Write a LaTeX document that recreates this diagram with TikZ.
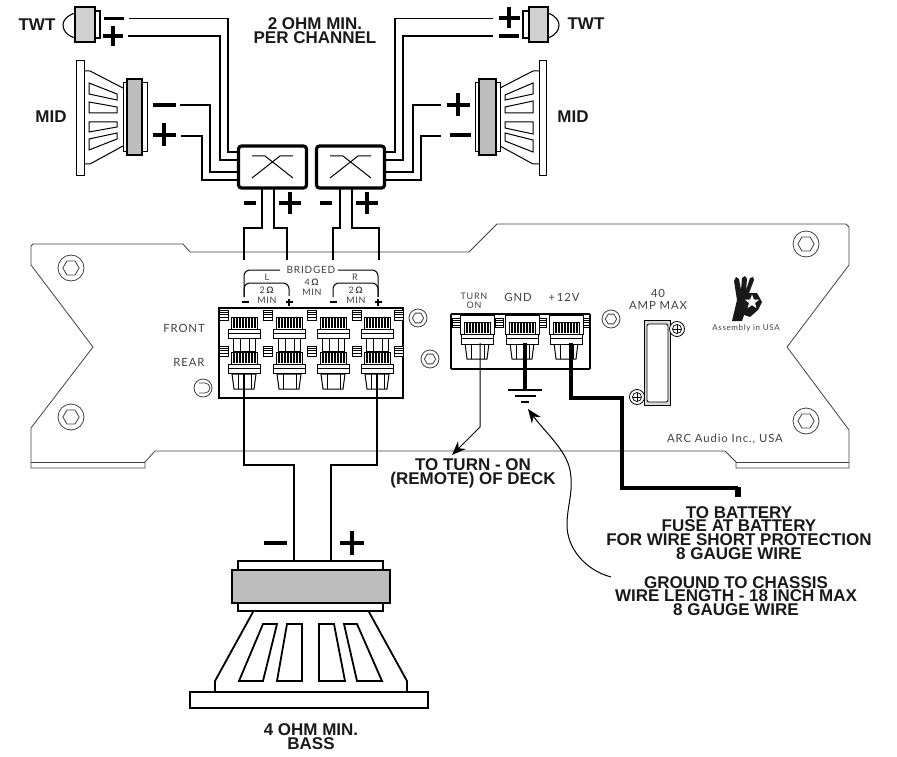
\documentclass[tikz,border=0pt]{standalone}
\usepackage{fontspec}
\setmainfont{Liberation Sans}
\newfontfamily\panelfont[LetterSpace=8]{Lato}
\usetikzlibrary{arrows.meta}
\usetikzlibrary{shapes.geometric}
\definecolor{coilGrey}{gray}{0.74}
\definecolor{panelInk}{gray}{0.25}
\begin{document}
\begin{tikzpicture}
[x=1pt,y=-1pt,
  wireLine/.style={-,line width=1.8pt,line join=miter},%
  signLine/.style={-,line width=3.6pt},%
  partLine/.style={-,line width=1pt,fill=white},%
  boardLine/.style={-,line width=0.8pt,panelInk},%
  heavyLine/.style={-,line width=4.6pt,line join=miter},%
  pointerLine/.style={-{Stealth[length=14pt,width=11pt]},line width=1pt},%
  bigLabel/.style={font=\fontsize{17}{13.8}\selectfont\bfseries,align=center,inner sep=0pt,text=black!90},%
  panelLabel/.style={font=\fontsize{11.3}{12}\selectfont\panelfont,align=center,inner sep=0pt,text=panelInk},%
  tinyLabel/.style={font=\fontsize{9}{9.5}\selectfont\panelfont,align=center,inner sep=0pt,text=panelInk},%
  hexHead/.style={regular polygon,regular polygon sides=6,draw=panelInk,line width=0.8pt,inner sep=0pt}]
\useasboundingbox (0,0) rectangle (897,757);
%% board outline
\draw[boardLine] (33,244) -- (183,244) -- (190,252) -- (469,252) -- (497,224) -- (846,224)
  -- (849,227) -- (849,265) -- (787,347) -- (849,430) -- (849,468) -- (736,468) -- (736,462)
  -- (725,451) -- (155,451) -- (145,462) -- (145,468) -- (31,468) -- (31,428) -- (93,347)
  -- (31,265) -- (31,246) -- cycle;
\draw[boardLine] (31,462) -- (145,462) (736,462) -- (849,462);
%% screws
\foreach \screwname/\x/\y/\r in {
  sa/71/268/13, sb/71/417/13, sc/806/244/13, sd/806/421/13,
  se/418/318/9, sf/430/359/9, sg/611/319/9}
{
  \draw[boardLine] (\x,\y) circle (\r);
  \node[hexHead,minimum size=1.25*\r pt] (\screwname) at (\x,\y) {};
}
\draw[boardLine] (203,388) circle (9);
\draw[boardLine] (199,383) -- (205,383) arc (-90:90:5) -- (199,393);
%% terminal blocks
\draw[line width=1.8pt] (219,308) rectangle (403,398);
\draw[line width=1.8pt,rounded corners=1pt] (451,314) rectangle (590,369);
%% small ribs
\foreach \x in {219,263,307,352,394}
  \foreach \y in {310,346}
  {
    \draw[line width=0.7pt,fill=white] (\x,\y) rectangle ++(9,10);
    \foreach \d in {2,4.5,7}
      \draw[line width=1pt] (\x,\y+\d) -- ++(9,0);
  }
\foreach \x/\y in {452/318,495/318,538/318,581/318}
{
  \draw[line width=0.7pt,fill=white] (\x,\y) rectangle ++(8,9);
  \foreach \d in {2,4.5,7}
    \draw[line width=1pt] (\x,\y+\d) -- ++(8,0);
}
%% speaker posts
\foreach \x in {244,289,333,377}
{
  \draw[partLine] (\x-11,338) -- (\x+11,338) -- (\x+11,351) -- (\x-11,351) -- cycle;
  \draw[line width=0.6pt] (\x-4,338) -- (\x-4,351) (\x+5,338) -- (\x+5,351);
  \draw[partLine] (\x-12,374) -- (\x+12,374) -- (\x+10,389) -- (\x-10,389) -- cycle;
  \draw[line width=0.6pt] (\x-6,374) -- (\x-6,389) (\x+7,374) -- (\x+7,389);
  \foreach \y in {317,352}
  {
    \draw[partLine] (\x-13,\y) rectangle (\x+13,\y+12);
    \foreach \d in {-10,-7,...,11}
      \draw[line width=1.3pt] (\x+\d,\y+1) -- (\x+\d,\y+11);
    \draw[partLine] (\x-16,\y+12) rectangle (\x+16,\y+16);
    \draw[partLine] (\x-16,\y+16) rectangle (\x+16,\y+21);
  }
}
%% power posts
\foreach \x in {477,522,566}
{
  \draw[partLine] (\x-17,315) rectangle (\x+17,334);
  \draw[partLine] (\x-12,343) -- (\x+12,343) -- (\x+10,359) -- (\x-10,359) -- cycle;
  \draw[line width=0.6pt] (\x-6,343) -- (\x-6,359) (\x+7,343) -- (\x+7,359);
  \draw[partLine] (\x-13,322) rectangle (\x+13,334);
  \foreach \d in {-10,-7,...,11}
    \draw[line width=1.3pt] (\x+\d,323) -- (\x+\d,333);
  \draw[partLine] (\x-16,334) rectangle (\x+16,338);
  \draw[partLine] (\x-16,338) rectangle (\x+16,344);
}
%% fuse
\draw[line width=1pt,fill=black!15] (644,320) rectangle (670,405);
\draw[line width=0.8pt,fill=white,rounded corners=2pt] (647,324) rectangle (668,402);
\foreach \x/\y in {677/329,637/397}
{
  \draw[line width=0.8pt,fill=white] (\x,\y) circle (7.5);
  \draw[line width=0.7pt] (\x,\y) circle (4.5);
  \draw[line width=0.7pt] (\x-4,\y) -- (\x+4,\y) (\x,\y-4) -- (\x,\y+4);
}
%% hand mark
\fill[black!90] (732,321) -- (737,300) -- (734,281) -- (736,277) -- (739,279) -- (741,290)
  -- (742,278) -- (745,276) -- (747,279) -- (746,290) -- (750,278) -- (753,277) -- (754,280)
  -- (749,293) -- (757,293) -- (762,302) -- (758,310) -- (750,317) -- (744,315) -- (742,321) -- cycle;
\node[star,star points=5,star point ratio=2.4,fill=white,inner sep=0pt,minimum size=15pt] (handStar) at (752,302) {};
%% bridged brackets
\draw[line width=1pt,rounded corners=6pt] (244,297) -- (244,270) -- (280,270);
\draw[line width=1pt,rounded corners=6pt] (337,270) -- (378,270) -- (378,297);
\draw[line width=1pt,rounded corners=6pt] (244,297) -- (244,283) -- (289,283) -- (289,296);
\draw[line width=1pt,rounded corners=6pt] (333,297) -- (333,283) -- (378,283) -- (378,297);
%% tweeters and mid speakers
\draw[partLine,line width=1.3pt] (95,11) rectangle (100,38);
\draw[line width=1.1pt] (75,13) .. controls (66,16) and (63,21) .. (63,25) .. controls (63,30) and (66,35) .. (75,38);
\draw[line width=1.3pt,fill=black!18] (75,7) rectangle (95,42);
\draw[partLine,line width=1.3pt] (523,11) rectangle (529,38);
\draw[line width=1.1pt] (548,13) .. controls (556,16) and (559,21) .. (559,25) .. controls (559,30) and (556,35) .. (548,38);
\draw[line width=1.3pt,fill=black!18] (529,7) rectangle (548,42);
\draw[partLine] (76,61) rectangle (84,175);
\draw[line width=1pt] (84,71) -- (90,71) -- (123,88) (84,164) -- (90,164) -- (123,146);
\draw[partLine] (539,61) rectangle (546,175);
\draw[line width=1pt] (539,71) -- (533,71) -- (500,88) (539,164) -- (533,164) -- (500,146);
\foreach \ax/\ay/\bx/\by/\cx/\cy/\dx/\dy in {
  89/83/117/94/117/100/89/94, 89/102/117/107/117/113/89/113,
  89/122/117/122/117/127/89/132, 89/139/117/133/117/139/89/150,
  505/95/533/83/533/94/505/100, 505/107/533/101/533/113/505/113,
  505/122/533/122/533/134/505/128, 505/133/533/140/533/152/505/141}
{
  \draw[partLine] (\ax,\ay) -- (\bx,\by) -- (\cx,\cy) -- (\dx,\dy) -- cycle;
}
\draw[partLine] (123,83) rectangle (147,152);
\draw[line width=1.3pt,fill=coilGrey] (127,79) rectangle (142,155);
\draw[partLine] (475,83) rectangle (500,152);
\draw[line width=1.3pt,fill=coilGrey] (479,79) rectangle (496,155);
%% bass speaker
\draw[partLine,line width=1.8pt] (238,561) rectangle (383,611);
\draw[line width=2pt,fill=coilGrey] (232,570) rectangle (390,603);
\draw[line width=1.8pt] (253,612) -- (215,681) -- (215,692) (369,612) -- (407,681) -- (407,692);
\draw[partLine,line width=1.8pt] (190,692) rectangle (428,708);
\foreach \ax/\ay/\bx/\by/\cx/\cy/\dx/\dy in {
  263/624/277/624/263/681/239/681, 287/624/302/624/302/681/277/681,
  319/624/334/624/345/681/319/681, 344/624/357/624/382/681/357/681}
{
  \draw[partLine,line width=1.8pt] (\ax,\ay) -- (\bx,\by) -- (\cx,\cy) -- (\dx,\dy) -- cycle;
}
%% crossovers
\foreach \nodename/\x in {xoL/237, xoR/315}
{
  \node (\nodename) at (\x+35.5,167) [draw,line width=3.2pt,rounded corners=3pt,minimum width=68pt,minimum height=42pt,inner sep=0pt] {};
  \draw[line width=1pt] (\x+15,178) -- (\x+43,156) -- (\x+56,156);
  \draw[line width=1pt] (\x+15,156) -- (\x+28,156) -- (\x+56,178);
}
%% wire ends and bends
\foreach \nodename/\x/\y in {
  twtLa/129/18.5, twtLaB/228/85, xoLa/237/152, twtLb/128/36, twtLbB/220/95, xoLb/237/160,
  midLa/180/105, midLaB/210/140, xoLc/237/172, midLb/181/136, midLbB/202/160, xoLd/237/180,
  twtRa/493/18.5, twtRaB/395/85, xoRa/385/152, twtRb/493/36, twtRbB/403/95, xoRb/385/160,
  midRa/441/105, midRaB/413/140, xoRc/385/172, midRb/441/136, midRbB/421/160, xoRd/385/180,
  outA/262/189, outAB/244/228, termA/244/260, outB/274/189, outBB/287/228, termB/287/260,
  outC/340/189, outCB/333/228, termC/333/260, outD/352/189, outDB/379/228, termD/379/260,
  postN/244/373, postNB/294/465, bassN/294/560, postP/377/373, postPB/331/465, bassP/331/560,
  gndPost/525/343, gndBar/525/390, batPost/571/343, batA/622/398, batB/738/488,
  onPost/480/343, onBend/480/427, onTip/452/455, chassisFrom/611/577, chassisTip/528/409}
{
  \coordinate (\nodename) at (\x,\y);
}
%% wires
\foreach \startnode/\bendnode/\endnode in {
  twtLa/twtLaB/xoLa, twtLb/twtLbB/xoLb, midLa/midLaB/xoLc, midLb/midLbB/xoLd,
  twtRa/twtRaB/xoRa, twtRb/twtRbB/xoRb, midRa/midRaB/xoRc, midRb/midRbB/xoRd}
{
  \draw[wireLine] (\startnode) -| (\bendnode) |- (\endnode);
}
\foreach \startnode/\bendnode/\endnode in {
  outA/outAB/termA, outB/outBB/termB, outC/outCB/termC, outD/outDB/termD,
  postN/postNB/bassN, postP/postPB/bassP}
{
  \draw[wireLine] (\startnode) |- (\bendnode) -- (\endnode);
}
\draw[heavyLine] (gndPost) -- (gndBar);
\draw[heavyLine] (batPost) |- (batA) |- (batB);
\draw[line width=6pt] (batB) ++(0,-1.5) -- ++(0,10);
\draw[pointerLine] (onPost) -- (onBend) -- (onTip);
\draw[pointerLine] (chassisFrom) .. controls (585,570) and (567,548) .. (567,525)
  .. controls (567,505) and (574,492) .. (570,470) .. controls (566,450) and (545,432) .. (chassisTip);
%% ground bars
\foreach \x/\y/\w in {525/390/17, 525/396/10.5, 525/402/4}
  \draw[line width=2.8pt] (\x-\w,\y) -- (\x+\w,\y);
%% plus and minus signs
\foreach \x/\y/\w in {
  114/18.5/10, 164/105/11.5, 250/203/6, 326/203/6, 509/36/10, 460/135/10.5, 275.5/543/11.5}
  \draw[signLine] (\x-\w,\y) -- (\x+\w,\y);
\foreach \x/\y/\w in {
  113/36/10, 164/135/11.5, 290/203/11, 367/203/11, 509/18/10.5, 458/105/11.5, 352/543/12}
  \draw[signLine] (\x-\w,\y) -- (\x+\w,\y) (\x,\y-\w) -- (\x,\y+\w);
%% big labels
\foreach \nodename/\x/\y/\txt in {
  lblTwtL/37/25/TWT, lblTwtR/586/24/TWT, lblMidL/51/117/MID, lblMidR/573/117/MID,
  lblTop/315/30.5/{2 OHM MIN.\\PER CHANNEL}, lblBass/311/737/{4 OHM MIN.\\BASS},
  lblDeck/473/473/{TO TURN - ON\\(REMOTE) OF DECK},
  lblBat/739/533/{TO BATTERY\\FUSE AT BATTERY\\FOR WIRE SHORT PROTECTION\\8 GAUGE WIRE},
  lblGnd/736/596/{GROUND TO CHASSIS\\WIRE LENGTH - 18 INCH MAX\\8 GAUGE WIRE}}
{
  \node[bigLabel] (\nodename) at (\x,\y) {\txt};
}
%% panel labels
\foreach \nodename/\x/\y/\txt in {
  lblFront/184/328/FRONT, lblRear/189/362/REAR, lblOut/518/297/GND, lblPow/564/297/{+\,12V},
  lblAmp/658/299.5/{40\\AMP MAX}, lblArc/725/439/{ARC Audio Inc., USA}}
{
  \node[panelLabel] (\nodename) at (\x,\y) {\txt};
}
\node[tinyLabel,font=\fontsize{10}{10}\selectfont\panelfont,fill=white,inner xsep=3pt] (lblBridged) at (311,270) {BRIDGED};
\foreach \nodename/\x/\y/\txt in {
  lblL/267/277/L, lblR/355/277/R, lblOn/474/301/{TURN\\ON},
  lblLtwo/267/295/{2\,\textbf{Ω}\\MIN}, lblRtwo/356/295/{2\,\textbf{Ω}\\MIN},
  lblMid/312/287/{4\,\textbf{Ω}\\MIN}}
{
  \node[tinyLabel] (\nodename) at (\x,\y) {\txt};
}
\node[font=\fontsize{8}{8}\selectfont\panelfont,inner sep=0pt,text=panelInk] (lblUsa) at (746,328) {Assembly in USA};
%% terminal signs
\foreach \x in {245,333}
  \draw[line width=1.5pt] (\x-3.5,302) -- (\x+3.5,302);
\foreach \x in {289,378}
  \draw[line width=1.5pt] (\x-3.5,302) -- (\x+3.5,302) (\x,298.5) -- (\x,305.5);
\end{tikzpicture}
\end{document}
